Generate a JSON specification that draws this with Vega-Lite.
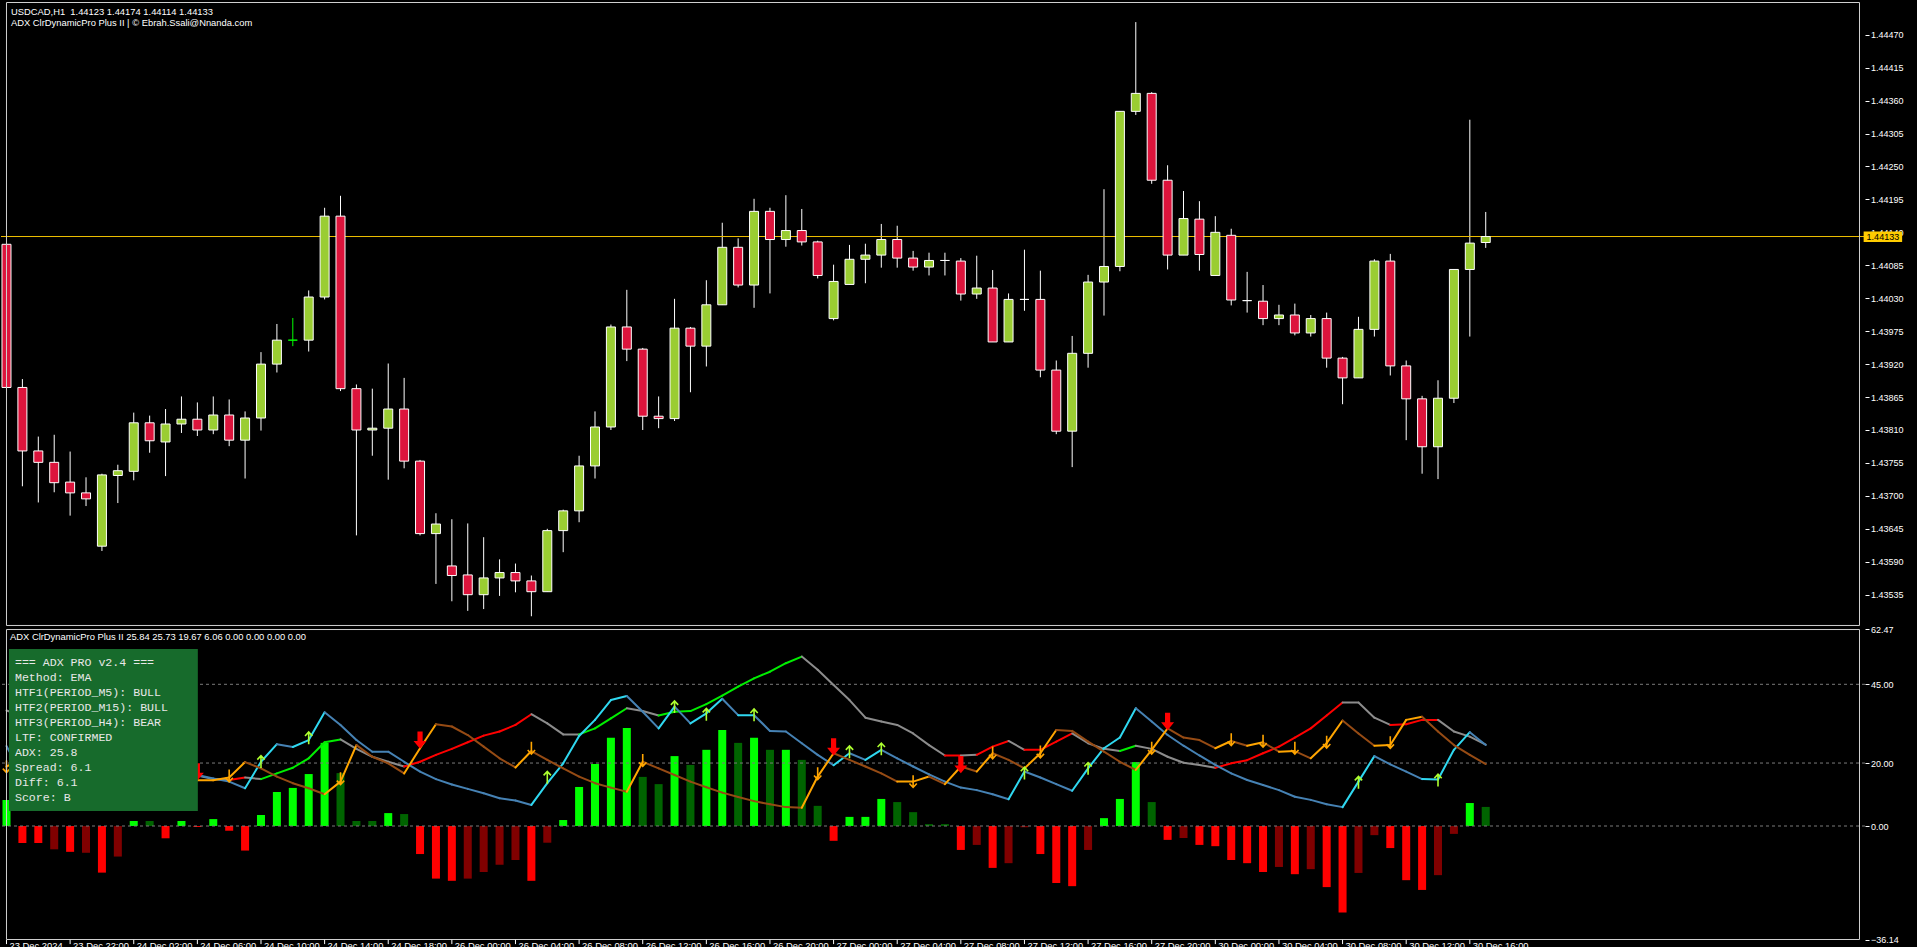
{
  "$schema": "https://vega.github.io/schema/vega-lite/v6.json",
  "width": 1917,
  "height": 947,
  "autosize": {"type": "fit", "contains": "padding"},
  "padding": 0,
  "background": "#000000",
  "config": {"view": {"stroke": null}, "font": "Liberation Sans", "axis": {"labelFont": "Liberation Sans"}},
  "datasets": {
    "candles": [
      {"i":0,"o":1.4412,"h":1.44125,"l":1.43878,"c":1.43881},
      {"i":1,"o":1.43881,"h":1.43895,"l":1.43716,"c":1.43775},
      {"i":2,"o":1.43775,"h":1.43799,"l":1.43689,"c":1.43756},
      {"i":3,"o":1.43756,"h":1.43802,"l":1.43706,"c":1.43722},
      {"i":4,"o":1.43723,"h":1.43774,"l":1.43667,"c":1.43705},
      {"i":5,"o":1.43705,"h":1.43731,"l":1.43683,"c":1.43695},
      {"i":6,"o":1.43616,"h":1.43737,"l":1.43608,"c":1.43735},
      {"i":7,"o":1.43734,"h":1.43752,"l":1.43688,"c":1.43742},
      {"i":8,"o":1.43741,"h":1.43839,"l":1.43726,"c":1.43822},
      {"i":9,"o":1.43822,"h":1.43834,"l":1.43772,"c":1.43792},
      {"i":10,"o":1.4379,"h":1.43845,"l":1.43733,"c":1.4382},
      {"i":11,"o":1.4382,"h":1.43866,"l":1.43805,"c":1.43828},
      {"i":12,"o":1.43828,"h":1.43856,"l":1.438,"c":1.4381},
      {"i":13,"o":1.4381,"h":1.43866,"l":1.43803,"c":1.43835},
      {"i":14,"o":1.43835,"h":1.43861,"l":1.43783,"c":1.43793},
      {"i":15,"o":1.43793,"h":1.43841,"l":1.43729,"c":1.4383},
      {"i":16,"o":1.4383,"h":1.4394,"l":1.43809,"c":1.4392},
      {"i":17,"o":1.4392,"h":1.43987,"l":1.43906,"c":1.4396},
      {"i":18,"o":1.4396,"h":1.43997,"l":1.4395,"c":1.4396},
      {"i":19,"o":1.4396,"h":1.44043,"l":1.43941,"c":1.44032},
      {"i":20,"o":1.44032,"h":1.44181,"l":1.44028,"c":1.44167},
      {"i":21,"o":1.44167,"h":1.44201,"l":1.43875,"c":1.43879},
      {"i":22,"o":1.43879,"h":1.43886,"l":1.43634,"c":1.4381},
      {"i":23,"o":1.4381,"h":1.43879,"l":1.43767,"c":1.43813},
      {"i":24,"o":1.43813,"h":1.43921,"l":1.43727,"c":1.43845},
      {"i":25,"o":1.43845,"h":1.43897,"l":1.43746,"c":1.43758},
      {"i":26,"o":1.43758,"h":1.4376,"l":1.43634,"c":1.43637},
      {"i":27,"o":1.43637,"h":1.43671,"l":1.43553,"c":1.43653},
      {"i":28,"o":1.43583,"h":1.43661,"l":1.43524,"c":1.43567},
      {"i":29,"o":1.43568,"h":1.43654,"l":1.43508,"c":1.43535},
      {"i":30,"o":1.43535,"h":1.43631,"l":1.43511,"c":1.43563},
      {"i":31,"o":1.43563,"h":1.43594,"l":1.43533,"c":1.43572},
      {"i":32,"o":1.43572,"h":1.43587,"l":1.43539,"c":1.43558},
      {"i":33,"o":1.43558,"h":1.43567,"l":1.43499,"c":1.4354},
      {"i":34,"o":1.4354,"h":1.43645,"l":1.4354,"c":1.43642},
      {"i":35,"o":1.43642,"h":1.43677,"l":1.43606,"c":1.43675},
      {"i":36,"o":1.43675,"h":1.43767,"l":1.43656,"c":1.4375},
      {"i":37,"o":1.4375,"h":1.43841,"l":1.43729,"c":1.43815},
      {"i":38,"o":1.43815,"h":1.43986,"l":1.4381,"c":1.43982},
      {"i":39,"o":1.43982,"h":1.44044,"l":1.43925,"c":1.43945},
      {"i":40,"o":1.43945,"h":1.43947,"l":1.4381,"c":1.43833},
      {"i":41,"o":1.43833,"h":1.43866,"l":1.43813,"c":1.43829},
      {"i":42,"o":1.43829,"h":1.44029,"l":1.43825,"c":1.4398},
      {"i":43,"o":1.4398,"h":1.43982,"l":1.43873,"c":1.4395},
      {"i":44,"o":1.4395,"h":1.4406,"l":1.43916,"c":1.44019},
      {"i":45,"o":1.44019,"h":1.44156,"l":1.44019,"c":1.44115},
      {"i":46,"o":1.44115,"h":1.4413,"l":1.44048,"c":1.44052},
      {"i":47,"o":1.44052,"h":1.44196,"l":1.44014,"c":1.44175},
      {"i":48,"o":1.44175,"h":1.44181,"l":1.44038,"c":1.44128},
      {"i":49,"o":1.44128,"h":1.44202,"l":1.44116,"c":1.44143},
      {"i":50,"o":1.44143,"h":1.44179,"l":1.44118,"c":1.44124},
      {"i":51,"o":1.44124,"h":1.44126,"l":1.44063,"c":1.44068},
      {"i":52,"o":1.43996,"h":1.44086,"l":1.43993,"c":1.44058},
      {"i":53,"o":1.44053,"h":1.44119,"l":1.44053,"c":1.44095},
      {"i":54,"o":1.44095,"h":1.44121,"l":1.44055,"c":1.44102},
      {"i":55,"o":1.44102,"h":1.44154,"l":1.44081,"c":1.44128},
      {"i":56,"o":1.44128,"h":1.44151,"l":1.44081,"c":1.44097},
      {"i":57,"o":1.44097,"h":1.44109,"l":1.44076,"c":1.44082},
      {"i":58,"o":1.44082,"h":1.44106,"l":1.44068,"c":1.44093},
      {"i":59,"o":1.44093,"h":1.44106,"l":1.44068,"c":1.44093},
      {"i":60,"o":1.44092,"h":1.44097,"l":1.44026,"c":1.44037},
      {"i":61,"o":1.44037,"h":1.44101,"l":1.44029,"c":1.44047},
      {"i":62,"o":1.44047,"h":1.44077,"l":1.43957,"c":1.43957},
      {"i":63,"o":1.43957,"h":1.44038,"l":1.43957,"c":1.44028},
      {"i":64,"o":1.44028,"h":1.44111,"l":1.44009,"c":1.44028},
      {"i":65,"o":1.44028,"h":1.44076,"l":1.43898,"c":1.4391},
      {"i":66,"o":1.4391,"h":1.43926,"l":1.43803,"c":1.43808},
      {"i":67,"o":1.43808,"h":1.43967,"l":1.43748,"c":1.43938},
      {"i":68,"o":1.43938,"h":1.44069,"l":1.43914,"c":1.44057},
      {"i":69,"o":1.44057,"h":1.44212,"l":1.44001,"c":1.44083},
      {"i":70,"o":1.44083,"h":1.44342,"l":1.44075,"c":1.44342},
      {"i":71,"o":1.44342,"h":1.44491,"l":1.44336,"c":1.44372},
      {"i":72,"o":1.44372,"h":1.44374,"l":1.44221,"c":1.44227},
      {"i":73,"o":1.44227,"h":1.44252,"l":1.44078,"c":1.44102},
      {"i":74,"o":1.44102,"h":1.44209,"l":1.44102,"c":1.44163},
      {"i":75,"o":1.44162,"h":1.44192,"l":1.44076,"c":1.44103},
      {"i":76,"o":1.44068,"h":1.44167,"l":1.44068,"c":1.4414},
      {"i":77,"o":1.44135,"h":1.44146,"l":1.44018,"c":1.44027},
      {"i":78,"o":1.44026,"h":1.44074,"l":1.44006,"c":1.44026},
      {"i":79,"o":1.44025,"h":1.44052,"l":1.43985,"c":1.43996},
      {"i":80,"o":1.43996,"h":1.44019,"l":1.43985,"c":1.44002},
      {"i":81,"o":1.44002,"h":1.44021,"l":1.43968,"c":1.43972},
      {"i":82,"o":1.43972,"h":1.44002,"l":1.43966,"c":1.43996},
      {"i":83,"o":1.43996,"h":1.44006,"l":1.43914,"c":1.4393},
      {"i":84,"o":1.4393,"h":1.43932,"l":1.43853,"c":1.43897},
      {"i":85,"o":1.43897,"h":1.43999,"l":1.43897,"c":1.43978},
      {"i":86,"o":1.43978,"h":1.44095,"l":1.43966,"c":1.44092},
      {"i":87,"o":1.44092,"h":1.44104,"l":1.43901,"c":1.43917},
      {"i":88,"o":1.43917,"h":1.43926,"l":1.43793,"c":1.43862},
      {"i":89,"o":1.43862,"h":1.43867,"l":1.43737,"c":1.43782},
      {"i":90,"o":1.43782,"h":1.43893,"l":1.43728,"c":1.43863},
      {"i":91,"o":1.43863,"h":1.44078,"l":1.43855,"c":1.44078},
      {"i":92,"o":1.44078,"h":1.44328,"l":1.43966,"c":1.44122},
      {"i":93,"o":1.44123,"h":1.44174,"l":1.44114,"c":1.44133}
    ],
    "ind": [
      {"i":0,"adx":36.7,"as":"flat","pdi":25.4,"ps":"down","mdi":18.9,"ms":"up","h":8.3,"hs":"strong bull"},
      {"i":1,"adx":35.0,"as":"flat","pdi":16.0,"ps":"down","mdi":21.4,"ms":"up","h":-5.4,"hs":"strong bear"},
      {"i":2,"adx":33.2,"as":"flat","pdi":15.0,"ps":"down","mdi":20.4,"ms":"down","h":-5.4,"hs":"strong bear"},
      {"i":3,"adx":31.5,"as":"flat","pdi":14.0,"ps":"down","mdi":21.4,"ms":"up","h":-7.4,"hs":"weak bear"},
      {"i":4,"adx":29.8,"as":"flat","pdi":13.0,"ps":"down","mdi":21.2,"ms":"down","h":-8.2,"hs":"strong bear"},
      {"i":5,"adx":28.0,"as":"flat","pdi":12.8,"ps":"down","mdi":21.3,"ms":"up","h":-8.5,"hs":"weak bear"},
      {"i":6,"adx":26.5,"as":"flat","pdi":9.0,"ps":"down","mdi":23.8,"ms":"up","h":-14.8,"hs":"strong bear"},
      {"i":7,"adx":24.8,"as":"flat","pdi":12.0,"ps":"up","mdi":21.7,"ms":"down","h":-9.7,"hs":"weak bear"},
      {"i":8,"adx":23.0,"as":"flat","pdi":20.0,"ps":"up","mdi":18.4,"ms":"down","h":1.6,"hs":"strong bull"},
      {"i":9,"adx":21.2,"as":"flat","pdi":19.0,"ps":"down","mdi":17.4,"ms":"down","h":1.6,"hs":"weak bull"},
      {"i":10,"adx":19.5,"as":"flat","pdi":15.0,"ps":"down","mdi":18.9,"ms":"up","h":-3.9,"hs":"strong bear"},
      {"i":11,"adx":17.8,"as":"flat","pdi":17.0,"ps":"up","mdi":14.0,"ms":"down","h":1.6,"hs":"strong bull"},
      {"i":12,"adx":16.0,"as":"flat","pdi":16.2,"ps":"down","mdi":14.5,"ms":"up","h":-0.3,"hs":"strong bear"},
      {"i":13,"adx":14.9,"as":"flat","pdi":15.1,"ps":"down","mdi":14.5,"ms":"up","h":2.2,"hs":"strong bull"},
      {"i":14,"adx":14.6,"as":"flat","pdi":14.1,"ps":"down","mdi":15.4,"ms":"up","h":-1.5,"hs":"strong bear"},
      {"i":15,"adx":15.4,"as":"bear","pdi":12.0,"ps":"down","mdi":20.3,"ms":"up","h":-7.8,"hs":"strong bear"},
      {"i":16,"adx":14.9,"as":"flat","pdi":20.4,"ps":"up","mdi":18.3,"ms":"down","h":3.5,"hs":"strong bull"},
      {"i":17,"adx":16.7,"as":"bull","pdi":26.0,"ps":"up","mdi":15.7,"ms":"down","h":10.8,"hs":"strong bull"},
      {"i":18,"adx":18.5,"as":"bull","pdi":25.1,"ps":"down","mdi":13.6,"ms":"down","h":12.1,"hs":"strong bull"},
      {"i":19,"adx":21.5,"as":"bull","pdi":27.3,"ps":"up","mdi":12.0,"ms":"down","h":16.5,"hs":"strong bull"},
      {"i":20,"adx":26.6,"as":"bull","pdi":36.1,"ps":"up","mdi":10.1,"ms":"down","h":26.4,"hs":"strong bull"},
      {"i":21,"adx":27.5,"as":"bull","pdi":32.1,"ps":"down","mdi":14.1,"ms":"up","h":16.8,"hs":"weak bull"},
      {"i":22,"adx":24.5,"as":"flat","pdi":27.3,"ps":"down","mdi":25.7,"ms":"up","h":1.6,"hs":"weak bull"},
      {"i":23,"adx":22.0,"as":"flat","pdi":23.6,"ps":"down","mdi":22.0,"ms":"down","h":1.6,"hs":"weak bull"},
      {"i":24,"adx":20.4,"as":"flat","pdi":23.6,"ps":"down","mdi":19.9,"ms":"down","h":4.1,"hs":"strong bull"},
      {"i":25,"adx":18.9,"as":"flat","pdi":20.4,"ps":"down","mdi":16.7,"ms":"down","h":3.8,"hs":"weak bull"},
      {"i":26,"adx":20.4,"as":"bear","pdi":17.3,"ps":"down","mdi":24.7,"ms":"up","h":-8.9,"hs":"strong bear"},
      {"i":27,"adx":22.6,"as":"bear","pdi":14.9,"ps":"down","mdi":32.3,"ms":"up","h":-16.7,"hs":"strong bear"},
      {"i":28,"adx":24.5,"as":"bear","pdi":13.2,"ps":"down","mdi":31.6,"ms":"down","h":-17.4,"hs":"strong bear"},
      {"i":29,"adx":26.6,"as":"bear","pdi":11.8,"ps":"down","mdi":28.9,"ms":"down","h":-16.7,"hs":"weak bear"},
      {"i":30,"adx":28.7,"as":"bear","pdi":10.4,"ps":"down","mdi":25.2,"ms":"down","h":-14.6,"hs":"weak bear"},
      {"i":31,"adx":30.0,"as":"bear","pdi":8.8,"ps":"down","mdi":21.5,"ms":"down","h":-12.3,"hs":"weak bear"},
      {"i":32,"adx":32.1,"as":"bear","pdi":8.1,"ps":"down","mdi":18.6,"ms":"down","h":-10.8,"hs":"weak bear"},
      {"i":33,"adx":35.5,"as":"bear","pdi":6.7,"ps":"down","mdi":23.8,"ms":"up","h":-17.4,"hs":"strong bear"},
      {"i":34,"adx":32.6,"as":"flat","pdi":13.6,"ps":"up","mdi":21.0,"ms":"down","h":-5.3,"hs":"weak bear"},
      {"i":35,"adx":29.1,"as":"flat","pdi":19.9,"ps":"up","mdi":18.3,"ms":"down","h":1.9,"hs":"strong bull"},
      {"i":36,"adx":29.1,"as":"flat","pdi":28.6,"ps":"up","mdi":15.7,"ms":"down","h":12.4,"hs":"strong bull"},
      {"i":37,"adx":31.0,"as":"bull","pdi":33.7,"ps":"up","mdi":13.6,"ms":"down","h":19.7,"hs":"strong bull"},
      {"i":38,"adx":34.2,"as":"bull","pdi":40.0,"ps":"up","mdi":12.2,"ms":"down","h":28.0,"hs":"strong bull"},
      {"i":39,"adx":37.4,"as":"bull","pdi":41.3,"ps":"up","mdi":10.9,"ms":"down","h":31.1,"hs":"strong bull"},
      {"i":40,"adx":36.5,"as":"flat","pdi":36.3,"ps":"down","mdi":20.4,"ms":"up","h":15.6,"hs":"weak bull"},
      {"i":41,"adx":35.1,"as":"flat","pdi":31.0,"ps":"down","mdi":18.3,"ms":"down","h":13.3,"hs":"weak bull"},
      {"i":42,"adx":36.3,"as":"bull","pdi":37.9,"ps":"up","mdi":16.2,"ms":"down","h":22.2,"hs":"strong bull"},
      {"i":43,"adx":36.5,"as":"bull","pdi":32.6,"ps":"down","mdi":14.1,"ms":"down","h":19.4,"hs":"weak bull"},
      {"i":44,"adx":38.7,"as":"bull","pdi":35.8,"ps":"up","mdi":12.3,"ms":"down","h":24.2,"hs":"strong bull"},
      {"i":45,"adx":41.4,"as":"bull","pdi":40.4,"ps":"up","mdi":10.6,"ms":"down","h":30.5,"hs":"strong bull"},
      {"i":46,"adx":44.3,"as":"bull","pdi":35.2,"ps":"down","mdi":9.2,"ms":"down","h":26.4,"hs":"weak bull"},
      {"i":47,"adx":46.9,"as":"bull","pdi":35.2,"ps":"up","mdi":7.9,"ms":"down","h":28.0,"hs":"strong bull"},
      {"i":48,"adx":49.0,"as":"bull","pdi":30.2,"ps":"down","mdi":6.9,"ms":"down","h":24.2,"hs":"weak bull"},
      {"i":49,"adx":51.7,"as":"bull","pdi":30.0,"ps":"down","mdi":6.0,"ms":"down","h":24.2,"hs":"strong bull"},
      {"i":50,"adx":53.8,"as":"bull","pdi":26.3,"ps":"down","mdi":5.8,"ms":"down","h":21.0,"hs":"weak bull"},
      {"i":51,"adx":49.6,"as":"flat","pdi":22.6,"ps":"down","mdi":15.7,"ms":"up","h":6.4,"hs":"weak bull"},
      {"i":52,"adx":44.8,"as":"flat","pdi":19.3,"ps":"down","mdi":23.1,"ms":"up","h":-4.7,"hs":"strong bear"},
      {"i":53,"adx":40.0,"as":"flat","pdi":23.1,"ps":"up","mdi":21.0,"ms":"down","h":2.9,"hs":"strong bull"},
      {"i":54,"adx":34.4,"as":"flat","pdi":21.0,"ps":"down","mdi":18.9,"ms":"down","h":2.9,"hs":"strong bull"},
      {"i":55,"adx":33.2,"as":"flat","pdi":24.2,"ps":"up","mdi":16.7,"ms":"down","h":8.6,"hs":"strong bull"},
      {"i":56,"adx":32.1,"as":"flat","pdi":21.5,"ps":"down","mdi":14.1,"ms":"down","h":7.6,"hs":"weak bull"},
      {"i":57,"adx":29.4,"as":"flat","pdi":18.9,"ps":"down","mdi":14.1,"ms":"up","h":4.4,"hs":"weak bull"},
      {"i":58,"adx":25.7,"as":"flat","pdi":16.4,"ps":"down","mdi":15.7,"ms":"up","h":0.6,"hs":"weak bull"},
      {"i":59,"adx":22.4,"as":"flat","pdi":14.1,"ps":"down","mdi":13.3,"ms":"down","h":0.6,"hs":"weak bull"},
      {"i":60,"adx":22.4,"as":"bear","pdi":12.2,"ps":"down","mdi":18.9,"ms":"up","h":-7.6,"hs":"strong bear"},
      {"i":61,"adx":22.6,"as":"flat","pdi":11.4,"ps":"down","mdi":17.3,"ms":"down","h":-6.0,"hs":"weak bear"},
      {"i":62,"adx":25.2,"as":"bear","pdi":10.1,"ps":"down","mdi":23.1,"ms":"up","h":-13.3,"hs":"strong bear"},
      {"i":63,"adx":27.0,"as":"bear","pdi":8.5,"ps":"down","mdi":21.0,"ms":"down","h":-11.8,"hs":"weak bear"},
      {"i":64,"adx":24.2,"as":"flat","pdi":17.3,"ps":"up","mdi":18.3,"ms":"down","h":-0.4,"hs":"weak bear"},
      {"i":65,"adx":24.2,"as":"bear","pdi":15.4,"ps":"down","mdi":23.1,"ms":"up","h":-8.9,"hs":"strong bear"},
      {"i":66,"adx":26.8,"as":"bear","pdi":13.3,"ps":"down","mdi":30.5,"ms":"up","h":-18.1,"hs":"strong bear"},
      {"i":67,"adx":29.4,"as":"bear","pdi":11.2,"ps":"down","mdi":30.2,"ms":"down","h":-19.1,"hs":"strong bear"},
      {"i":68,"adx":26.3,"as":"flat","pdi":18.3,"ps":"up","mdi":26.8,"ms":"down","h":-7.6,"hs":"weak bear"},
      {"i":69,"adx":24.5,"as":"flat","pdi":24.7,"ps":"up","mdi":23.6,"ms":"down","h":2.5,"hs":"strong bull"},
      {"i":70,"adx":23.8,"as":"flat","pdi":28.1,"ps":"up","mdi":20.4,"ms":"down","h":8.6,"hs":"strong bull"},
      {"i":71,"adx":25.5,"as":"bull","pdi":37.4,"ps":"up","mdi":17.8,"ms":"down","h":20.3,"hs":"strong bull"},
      {"i":72,"adx":24.5,"as":"flat","pdi":33.2,"ps":"down","mdi":24.2,"ms":"up","h":7.6,"hs":"weak bull"},
      {"i":73,"adx":22.0,"as":"flat","pdi":28.9,"ps":"down","mdi":31.0,"ms":"up","h":-4.4,"hs":"strong bear"},
      {"i":74,"adx":20.1,"as":"flat","pdi":25.5,"ps":"down","mdi":28.1,"ms":"down","h":-3.8,"hs":"weak bear"},
      {"i":75,"adx":19.4,"as":"flat","pdi":22.4,"ps":"down","mdi":27.3,"ms":"down","h":-6.0,"hs":"strong bear"},
      {"i":76,"adx":18.5,"as":"flat","pdi":19.4,"ps":"down","mdi":24.7,"ms":"down","h":-6.4,"hs":"strong bear"},
      {"i":77,"adx":19.9,"as":"bear","pdi":16.7,"ps":"down","mdi":27.0,"ms":"up","h":-10.8,"hs":"strong bear"},
      {"i":78,"adx":20.9,"as":"bear","pdi":14.6,"ps":"down","mdi":25.5,"ms":"down","h":-11.8,"hs":"strong bear"},
      {"i":79,"adx":23.1,"as":"bear","pdi":13.0,"ps":"down","mdi":26.6,"ms":"up","h":-14.6,"hs":"strong bear"},
      {"i":80,"adx":25.2,"as":"bear","pdi":11.4,"ps":"down","mdi":23.6,"ms":"down","h":-13.0,"hs":"weak bear"},
      {"i":81,"adx":28.1,"as":"bear","pdi":9.3,"ps":"down","mdi":23.8,"ms":"up","h":-15.3,"hs":"strong bear"},
      {"i":82,"adx":31.0,"as":"bear","pdi":8.3,"ps":"down","mdi":21.5,"ms":"down","h":-13.7,"hs":"weak bear"},
      {"i":83,"adx":35.1,"as":"bear","pdi":6.9,"ps":"down","mdi":26.3,"ms":"up","h":-19.4,"hs":"strong bear"},
      {"i":84,"adx":39.2,"as":"bear","pdi":6.0,"ps":"down","mdi":33.5,"ms":"up","h":-27.5,"hs":"strong bear"},
      {"i":85,"adx":39.2,"as":"flat","pdi":14.1,"ps":"up","mdi":29.4,"ms":"down","h":-14.9,"hs":"weak bear"},
      {"i":86,"adx":34.4,"as":"flat","pdi":22.2,"ps":"up","mdi":25.5,"ms":"down","h":-2.9,"hs":"weak bear"},
      {"i":87,"adx":32.1,"as":"flat","pdi":19.6,"ps":"down","mdi":25.7,"ms":"up","h":-7.0,"hs":"strong bear"},
      {"i":88,"adx":32.3,"as":"bear","pdi":17.3,"ps":"down","mdi":33.7,"ms":"up","h":-17.2,"hs":"strong bear"},
      {"i":89,"adx":33.7,"as":"bear","pdi":14.9,"ps":"down","mdi":34.7,"ms":"up","h":-20.3,"hs":"strong bear"},
      {"i":90,"adx":33.7,"as":"bear","pdi":14.8,"ps":"up","mdi":30.0,"ms":"down","h":-15.6,"hs":"weak bear"},
      {"i":91,"adx":30.0,"as":"flat","pdi":24.2,"ps":"up","mdi":25.7,"ms":"down","h":-2.5,"hs":"weak bear"},
      {"i":92,"adx":28.4,"as":"flat","pdi":29.8,"ps":"up","mdi":22.6,"ms":"down","h":7.3,"hs":"strong bull"},
      {"i":93,"adx":25.84,"as":"flat","pdi":25.73,"ps":"down","mdi":19.67,"ms":"down","h":6.06,"hs":"weak bull"}
    ],
    "sig": [
      {"i":0,"v":18.9,"k":"down"},
      {"i":12,"v":17.2,"k":"strong"},
      {"i":14,"v":16.0,"k":"down"},
      {"i":16,"v":20.4,"k":"up"},
      {"i":19,"v":27.9,"k":"up"},
      {"i":21,"v":15.1,"k":"down"},
      {"i":26,"v":27.3,"k":"strong"},
      {"i":33,"v":24.8,"k":"down"},
      {"i":34,"v":15.4,"k":"up"},
      {"i":40,"v":20.9,"k":"down"},
      {"i":42,"v":37.8,"k":"up"},
      {"i":44,"v":35.4,"k":"up"},
      {"i":47,"v":35.2,"k":"up"},
      {"i":51,"v":16.7,"k":"down"},
      {"i":52,"v":25.1,"k":"strong"},
      {"i":53,"v":23.5,"k":"up"},
      {"i":55,"v":24.4,"k":"up"},
      {"i":57,"v":14.2,"k":"down"},
      {"i":60,"v":19.5,"k":"strong"},
      {"i":62,"v":23.3,"k":"down"},
      {"i":64,"v":16.7,"k":"up"},
      {"i":65,"v":23.6,"k":"down"},
      {"i":68,"v":18.2,"k":"up"},
      {"i":72,"v":24.8,"k":"down"},
      {"i":73,"v":33.2,"k":"strong"},
      {"i":77,"v":27.5,"k":"down"},
      {"i":79,"v":27.0,"k":"down"},
      {"i":81,"v":24.8,"k":"down"},
      {"i":83,"v":26.7,"k":"down"},
      {"i":85,"v":13.8,"k":"up"},
      {"i":87,"v":26.6,"k":"down"},
      {"i":90,"v":14.5,"k":"up"}
    ],
    "times": [
      {"i":0,"t":"23 Dec 2024"},
      {"i":4,"t":"23 Dec 22:00"},
      {"i":8,"t":"24 Dec 02:00"},
      {"i":12,"t":"24 Dec 06:00"},
      {"i":16,"t":"24 Dec 10:00"},
      {"i":20,"t":"24 Dec 14:00"},
      {"i":24,"t":"24 Dec 18:00"},
      {"i":28,"t":"26 Dec 00:00"},
      {"i":32,"t":"26 Dec 04:00"},
      {"i":36,"t":"26 Dec 08:00"},
      {"i":40,"t":"26 Dec 12:00"},
      {"i":44,"t":"26 Dec 16:00"},
      {"i":48,"t":"26 Dec 20:00"},
      {"i":52,"t":"27 Dec 00:00"},
      {"i":56,"t":"27 Dec 04:00"},
      {"i":60,"t":"27 Dec 08:00"},
      {"i":64,"t":"27 Dec 12:00"},
      {"i":68,"t":"27 Dec 16:00"},
      {"i":72,"t":"27 Dec 20:00"},
      {"i":76,"t":"30 Dec 00:00"},
      {"i":80,"t":"30 Dec 04:00"},
      {"i":84,"t":"30 Dec 08:00"},
      {"i":88,"t":"30 Dec 12:00"},
      {"i":92,"t":"30 Dec 16:00"}
    ]
  },
  "resolve": {"scale": {"y": "independent"}, "axis": {"y": "independent"}},
  "layer": [
    {
      "layer": [
        {
          "data": {"name": "candles"},
          "mark": {"type": "rule", "strokeWidth": 1, "clip": true, "opacity": 1},
          "encoding": {
            "x": {"field": "i", "type": "quantitative", "scale": {"domain": [-0.03125, 116.53125], "nice": false, "zero": false}, "axis": null},
            "y": {"field": "l", "type": "quantitative", "scale": {"domain": [1.429468, 1.445279], "nice": false, "zero": false},
              "axis": {"orient": "right", "title": null, "format": ".5f", "values": [1.43535, 1.4359, 1.43645, 1.437, 1.43755, 1.4381, 1.43865, 1.4392, 1.43975, 1.4403, 1.44085, 1.4414, 1.44195, 1.4425, 1.44305, 1.4436, 1.44415, 1.4447], "domain": false, "grid": false, "ticks": true, "tickSize": 4, "tickColor": "#ffffff", "labelColor": "#ffffff", "labelFontSize": 9, "labelPadding": 1.5, "labelOverlap": false, "minExtent": 52, "maxExtent": 52, "zindex": 0}},
            "y2": {"field": "h"},
            "color": {"condition": {"test": "datum.i == 18", "value": "#00ff00"}, "value": "#ffffff"}
          }
        },
        {
          "data": {"values": [{}]},
          "mark": {"type": "rule", "color": "#f0c000", "strokeWidth": 1, "opacity": 1},
          "encoding": {
            "y": {"datum": 1.44133, "type": "quantitative", "scale": {"domain": [1.429468, 1.445279], "nice": false, "zero": false},
              "axis": {"orient": "right", "title": null, "format": ".5f", "values": [1.43535, 1.4359, 1.43645, 1.437, 1.43755, 1.4381, 1.43865, 1.4392, 1.43975, 1.4403, 1.44085, 1.4414, 1.44195, 1.4425, 1.44305, 1.4436, 1.44415, 1.4447], "domain": false, "grid": false, "ticks": true, "tickSize": 4, "tickColor": "#ffffff", "labelColor": "#ffffff", "labelFontSize": 9, "labelPadding": 1.5, "labelOverlap": false, "minExtent": 52, "maxExtent": 52, "zindex": 0}}
          }
        },
        {
          "data": {"name": "candles"},
          "mark": {"type": "bar", "orient": "vertical", "size": 9, "strokeWidth": 1, "clip": true, "opacity": 1},
          "encoding": {
            "x": {"field": "i", "type": "quantitative", "scale": {"domain": [-0.03125, 116.53125], "nice": false, "zero": false}, "axis": null},
            "y": {"field": "o", "type": "quantitative", "scale": {"domain": [1.429468, 1.445279], "nice": false, "zero": false},
              "axis": {"orient": "right", "title": null, "format": ".5f", "values": [1.43535, 1.4359, 1.43645, 1.437, 1.43755, 1.4381, 1.43865, 1.4392, 1.43975, 1.4403, 1.44085, 1.4414, 1.44195, 1.4425, 1.44305, 1.4436, 1.44415, 1.4447], "domain": false, "grid": false, "ticks": true, "tickSize": 4, "tickColor": "#ffffff", "labelColor": "#ffffff", "labelFontSize": 9, "labelPadding": 1.5, "labelOverlap": false, "minExtent": 52, "maxExtent": 52, "zindex": 0}},
            "y2": {"field": "c"},
            "fill": {"condition": {"test": "datum.c > datum.o", "value": "#9acd32"}, "value": "#dc143c"},
            "stroke": {"condition": {"test": "datum.i == 18", "value": "#00ff00"}, "value": "#ffffff"}
          }
        },
        {
          "data": {"values": [{}]},
          "mark": {"type": "rect", "filled": false, "color": "#cfcfcf", "strokeWidth": 1, "opacity": 1},
          "encoding": {
            "x": {"datum": 0.0, "type": "quantitative", "scale": {"domain": [-0.03125, 116.53125], "nice": false, "zero": false}, "axis": null},
            "x2": {"datum": 116.5},
            "y": {"datum": 1.445237, "type": "quantitative", "scale": {"domain": [1.429468, 1.445279], "nice": false, "zero": false},
              "axis": {"orient": "right", "title": null, "format": ".5f", "values": [1.43535, 1.4359, 1.43645, 1.437, 1.43755, 1.4381, 1.43865, 1.4392, 1.43975, 1.4403, 1.44085, 1.4414, 1.44195, 1.4425, 1.44305, 1.4436, 1.44415, 1.4447], "domain": false, "grid": false, "ticks": true, "tickSize": 4, "tickColor": "#ffffff", "labelColor": "#ffffff", "labelFontSize": 9, "labelPadding": 1.5, "labelOverlap": false, "minExtent": 52, "maxExtent": 52, "zindex": 0}},
            "y2": {"datum": 1.434836}
          }
        },
        {
          "data": {"values": [{}]},
          "mark": {"type": "rect", "color": "#ffcc00", "opacity": 1},
          "encoding": {
            "x": {"datum": 116.76, "type": "quantitative", "scale": {"domain": [-0.03125, 116.53125], "nice": false, "zero": false}, "axis": null},
            "x2": {"datum": 119.18},
            "y": {"datum": 1.441414, "type": "quantitative", "scale": {"domain": [1.429468, 1.445279], "nice": false, "zero": false},
              "axis": {"orient": "right", "title": null, "format": ".5f", "values": [1.43535, 1.4359, 1.43645, 1.437, 1.43755, 1.4381, 1.43865, 1.4392, 1.43975, 1.4403, 1.44085, 1.4414, 1.44195, 1.4425, 1.44305, 1.4436, 1.44415, 1.4447], "domain": false, "grid": false, "ticks": true, "tickSize": 4, "tickColor": "#ffffff", "labelColor": "#ffffff", "labelFontSize": 9, "labelPadding": 1.5, "labelOverlap": false, "minExtent": 52, "maxExtent": 52, "zindex": 0}},
            "y2": {"datum": 1.441239}
          }
        },
        {
          "data": {"values": [{}]},
          "mark": {"type": "text", "color": "#000000", "font": "Liberation Sans", "fontSize": 9, "align": "center", "baseline": "middle"},
          "encoding": {
            "x": {"datum": 117.97, "type": "quantitative", "scale": {"domain": [-0.03125, 116.53125], "nice": false, "zero": false}, "axis": null},
            "y": {"datum": 1.44133, "type": "quantitative", "scale": {"domain": [1.429468, 1.445279], "nice": false, "zero": false},
              "axis": {"orient": "right", "title": null, "format": ".5f", "values": [1.43535, 1.4359, 1.43645, 1.437, 1.43755, 1.4381, 1.43865, 1.4392, 1.43975, 1.4403, 1.44085, 1.4414, 1.44195, 1.4425, 1.44305, 1.4436, 1.44415, 1.4447], "domain": false, "grid": false, "ticks": true, "tickSize": 4, "tickColor": "#ffffff", "labelColor": "#ffffff", "labelFontSize": 9, "labelPadding": 1.5, "labelOverlap": false, "minExtent": 52, "maxExtent": 52, "zindex": 0}},
            "text": {"value": "1.44133"}
          }
        },
        {
          "data": {"values": [{}]},
          "mark": {"type": "text", "color": "#ffffff", "font": "Liberation Sans", "fontSize": 9.4, "align": "left", "baseline": "alphabetic", "lineHeight": 11},
          "encoding": {
            "x": {"datum": 0.28, "type": "quantitative", "scale": {"domain": [-0.03125, 116.53125], "nice": false, "zero": false}, "axis": null},
            "y": {"datum": 1.445029, "type": "quantitative", "scale": {"domain": [1.429468, 1.445279], "nice": false, "zero": false},
              "axis": {"orient": "right", "title": null, "format": ".5f", "values": [1.43535, 1.4359, 1.43645, 1.437, 1.43755, 1.4381, 1.43865, 1.4392, 1.43975, 1.4403, 1.44085, 1.4414, 1.44195, 1.4425, 1.44305, 1.4436, 1.44415, 1.4447], "domain": false, "grid": false, "ticks": true, "tickSize": 4, "tickColor": "#ffffff", "labelColor": "#ffffff", "labelFontSize": 9, "labelPadding": 1.5, "labelOverlap": false, "minExtent": 52, "maxExtent": 52, "zindex": 0}},
            "text": {"value": ["USDCAD,H1\u00a0 1.44123 1.44174 1.44114 1.44133", "ADX ClrDynamicPro Plus II | © Ebrah.Ssali@Nnanda.com"]}
          }
        }
      ]
    },
    {
      "resolve": {"scale": {"color": "independent"}},
      "layer": [
        {
          "data": {"name": "ind"},
          "mark": {"type": "bar", "orient": "vertical", "size": 8, "clip": true, "opacity": 1},
          "encoding": {
            "x": {"field": "i", "type": "quantitative", "scale": {"domain": [-0.03125, 116.53125], "nice": false, "zero": false}, "axis": null},
            "y": {"field": "h", "type": "quantitative", "scale": {"domain": [-38.42, 262.31], "nice": false, "zero": false},
              "axis": {"orient": "right", "title": null, "format": ".2f", "values": [-36.14, 0, 20, 45, 62.47], "domain": false, "grid": false, "ticks": true, "tickSize": 4, "tickColor": "#ffffff", "labelColor": "#ffffff", "labelFontSize": 9, "labelPadding": 1.5, "labelOverlap": false, "minExtent": 52, "maxExtent": 52, "zindex": 0}},
            "y2": {"datum": 0},
            "color": {"field": "hs", "type": "nominal", "legend": null, "scale": {"domain": ["strong bull", "weak bull", "strong bear", "weak bear"], "range": ["#00ff00", "#006400", "#ff0000", "#800000"]}}
          }
        },
        {
          "data": {"values": [{"lv": 45}, {"lv": 20}, {"lv": 0}]},
          "mark": {"type": "rule", "color": "#7a7a7a", "strokeDash": [3, 3], "strokeWidth": 1, "opacity": 1},
          "encoding": {
            "y": {"field": "lv", "type": "quantitative", "scale": {"domain": [-38.42, 262.31], "nice": false, "zero": false},
              "axis": {"orient": "right", "title": null, "format": ".2f", "values": [-36.14, 0, 20, 45, 62.47], "domain": false, "grid": false, "ticks": true, "tickSize": 4, "tickColor": "#ffffff", "labelColor": "#ffffff", "labelFontSize": 9, "labelPadding": 1.5, "labelOverlap": false, "minExtent": 52, "maxExtent": 52, "zindex": 0}}
          }
        },
        {
          "data": {"name": "ind"},
          "transform": [
            {"window": [{"op": "lag", "field": "adx", "as": "adx0"}, {"op": "lag", "field": "i", "as": "i0"}], "sort": [{"field": "i"}]},
            {"filter": "datum.i0 != null"}
          ],
          "mark": {"type": "rule", "strokeWidth": 2, "strokeCap": "round", "opacity": 1},
          "encoding": {
            "x": {"field": "i0", "type": "quantitative", "scale": {"domain": [-0.03125, 116.53125], "nice": false, "zero": false}, "axis": null},
            "x2": {"field": "i"},
            "y": {"field": "adx0", "type": "quantitative", "scale": {"domain": [-38.42, 262.31], "nice": false, "zero": false},
              "axis": {"orient": "right", "title": null, "format": ".2f", "values": [-36.14, 0, 20, 45, 62.47], "domain": false, "grid": false, "ticks": true, "tickSize": 4, "tickColor": "#ffffff", "labelColor": "#ffffff", "labelFontSize": 9, "labelPadding": 1.5, "labelOverlap": false, "minExtent": 52, "maxExtent": 52, "zindex": 0}},
            "y2": {"field": "adx"},
            "color": {"field": "as", "type": "nominal", "legend": null, "scale": {"domain": ["flat", "bull", "bear"], "range": ["#8c8c8c", "#00ee00", "#ff0000"]}}
          }
        },
        {
          "data": {"name": "ind"},
          "transform": [
            {"window": [{"op": "lag", "field": "pdi", "as": "pdi0"}, {"op": "lag", "field": "i", "as": "i0"}], "sort": [{"field": "i"}]},
            {"filter": "datum.i0 != null"}
          ],
          "mark": {"type": "rule", "strokeWidth": 2, "strokeCap": "round", "opacity": 1},
          "encoding": {
            "x": {"field": "i0", "type": "quantitative", "scale": {"domain": [-0.03125, 116.53125], "nice": false, "zero": false}, "axis": null},
            "x2": {"field": "i"},
            "y": {"field": "pdi0", "type": "quantitative", "scale": {"domain": [-38.42, 262.31], "nice": false, "zero": false},
              "axis": {"orient": "right", "title": null, "format": ".2f", "values": [-36.14, 0, 20, 45, 62.47], "domain": false, "grid": false, "ticks": true, "tickSize": 4, "tickColor": "#ffffff", "labelColor": "#ffffff", "labelFontSize": 9, "labelPadding": 1.5, "labelOverlap": false, "minExtent": 52, "maxExtent": 52, "zindex": 0}},
            "y2": {"field": "pdi"},
            "color": {"field": "ps", "type": "nominal", "legend": null, "scale": {"domain": ["up", "down"], "range": ["#2fd8f0", "#4682b4"]}}
          }
        },
        {
          "data": {"name": "ind"},
          "transform": [
            {"window": [{"op": "lag", "field": "mdi", "as": "mdi0"}, {"op": "lag", "field": "i", "as": "i0"}], "sort": [{"field": "i"}]},
            {"filter": "datum.i0 != null"}
          ],
          "mark": {"type": "rule", "strokeWidth": 2, "strokeCap": "round", "opacity": 1},
          "encoding": {
            "x": {"field": "i0", "type": "quantitative", "scale": {"domain": [-0.03125, 116.53125], "nice": false, "zero": false}, "axis": null},
            "x2": {"field": "i"},
            "y": {"field": "mdi0", "type": "quantitative", "scale": {"domain": [-38.42, 262.31], "nice": false, "zero": false},
              "axis": {"orient": "right", "title": null, "format": ".2f", "values": [-36.14, 0, 20, 45, 62.47], "domain": false, "grid": false, "ticks": true, "tickSize": 4, "tickColor": "#ffffff", "labelColor": "#ffffff", "labelFontSize": 9, "labelPadding": 1.5, "labelOverlap": false, "minExtent": 52, "maxExtent": 52, "zindex": 0}},
            "y2": {"field": "mdi"},
            "color": {"field": "ms", "type": "nominal", "legend": null, "scale": {"domain": ["up", "down"], "range": ["#ffa500", "#964b14"]}}
          }
        },
        {
          "data": {"name": "sig"},
          "transform": [{"filter": "datum.k == 'up'"}],
          "mark": {"type": "point", "shape": "M0,1L0,-1M-0.6,-0.35L0,-1L0.6,-0.35", "filled": false, "color": "#adff2f", "size": 150, "strokeWidth": 1.6, "opacity": 1, "clip": true},
          "encoding": {
            "x": {"field": "i", "type": "quantitative", "scale": {"domain": [-0.03125, 116.53125], "nice": false, "zero": false}, "axis": null},
            "y": {"field": "v", "type": "quantitative", "scale": {"domain": [-38.42, 262.31], "nice": false, "zero": false},
              "axis": {"orient": "right", "title": null, "format": ".2f", "values": [-36.14, 0, 20, 45, 62.47], "domain": false, "grid": false, "ticks": true, "tickSize": 4, "tickColor": "#ffffff", "labelColor": "#ffffff", "labelFontSize": 9, "labelPadding": 1.5, "labelOverlap": false, "minExtent": 52, "maxExtent": 52, "zindex": 0}}
          }
        },
        {
          "data": {"name": "sig"},
          "transform": [{"filter": "datum.k == 'down'"}],
          "mark": {"type": "point", "shape": "M0,-1L0,1M-0.6,0.35L0,1L0.6,0.35", "filled": false, "color": "#ffa500", "size": 150, "strokeWidth": 1.6, "opacity": 1, "clip": true},
          "encoding": {
            "x": {"field": "i", "type": "quantitative", "scale": {"domain": [-0.03125, 116.53125], "nice": false, "zero": false}, "axis": null},
            "y": {"field": "v", "type": "quantitative", "scale": {"domain": [-38.42, 262.31], "nice": false, "zero": false},
              "axis": {"orient": "right", "title": null, "format": ".2f", "values": [-36.14, 0, 20, 45, 62.47], "domain": false, "grid": false, "ticks": true, "tickSize": 4, "tickColor": "#ffffff", "labelColor": "#ffffff", "labelFontSize": 9, "labelPadding": 1.5, "labelOverlap": false, "minExtent": 52, "maxExtent": 52, "zindex": 0}}
          }
        },
        {
          "data": {"name": "sig"},
          "transform": [{"filter": "datum.k == 'strong'"}],
          "mark": {"type": "point", "shape": "M-0.3,-1L0.3,-1L0.3,0.1L0.75,0.1L0,1L-0.75,0.1L-0.3,0.1Z", "filled": true, "color": "#ff0000", "size": 300, "strokeWidth": 0, "opacity": 1, "clip": true},
          "encoding": {
            "x": {"field": "i", "type": "quantitative", "scale": {"domain": [-0.03125, 116.53125], "nice": false, "zero": false}, "axis": null},
            "y": {"field": "v", "type": "quantitative", "scale": {"domain": [-38.42, 262.31], "nice": false, "zero": false},
              "axis": {"orient": "right", "title": null, "format": ".2f", "values": [-36.14, 0, 20, 45, 62.47], "domain": false, "grid": false, "ticks": true, "tickSize": 4, "tickColor": "#ffffff", "labelColor": "#ffffff", "labelFontSize": 9, "labelPadding": 1.5, "labelOverlap": false, "minExtent": 52, "maxExtent": 52, "zindex": 0}}
          }
        },
        {
          "data": {"values": [{}]},
          "mark": {"type": "rect", "filled": false, "color": "#cfcfcf", "strokeWidth": 1, "opacity": 1},
          "encoding": {
            "x": {"datum": 0.0, "type": "quantitative", "scale": {"domain": [-0.03125, 116.53125], "nice": false, "zero": false}, "axis": null},
            "x2": {"datum": 116.5},
            "y": {"datum": 62.4, "type": "quantitative", "scale": {"domain": [-38.42, 262.31], "nice": false, "zero": false},
              "axis": {"orient": "right", "title": null, "format": ".2f", "values": [-36.14, 0, 20, 45, 62.47], "domain": false, "grid": false, "ticks": true, "tickSize": 4, "tickColor": "#ffffff", "labelColor": "#ffffff", "labelFontSize": 9, "labelPadding": 1.5, "labelOverlap": false, "minExtent": 52, "maxExtent": 52, "zindex": 0}},
            "y2": {"datum": -36.04}
          }
        },
        {
          "data": {"values": [{}]},
          "mark": {"type": "rect", "color": "#176b2c", "opacity": 1},
          "encoding": {
            "x": {"datum": 0.156, "type": "quantitative", "scale": {"domain": [-0.03125, 116.53125], "nice": false, "zero": false}, "axis": null},
            "x2": {"datum": 12.03},
            "y": {"datum": 56.2, "type": "quantitative", "scale": {"domain": [-38.42, 262.31], "nice": false, "zero": false},
              "axis": {"orient": "right", "title": null, "format": ".2f", "values": [-36.14, 0, 20, 45, 62.47], "domain": false, "grid": false, "ticks": true, "tickSize": 4, "tickColor": "#ffffff", "labelColor": "#ffffff", "labelFontSize": 9, "labelPadding": 1.5, "labelOverlap": false, "minExtent": 52, "maxExtent": 52, "zindex": 0}},
            "y2": {"datum": 4.76}
          }
        },
        {
          "data": {"values": [{}]},
          "mark": {"type": "text", "color": "#e8e8e8", "font": "Liberation Mono", "fontSize": 11.6, "align": "left", "baseline": "alphabetic", "lineHeight": 15},
          "encoding": {
            "x": {"datum": 0.53, "type": "quantitative", "scale": {"domain": [-0.03125, 116.53125], "nice": false, "zero": false}, "axis": null},
            "y": {"datum": 50.9, "type": "quantitative", "scale": {"domain": [-38.42, 262.31], "nice": false, "zero": false},
              "axis": {"orient": "right", "title": null, "format": ".2f", "values": [-36.14, 0, 20, 45, 62.47], "domain": false, "grid": false, "ticks": true, "tickSize": 4, "tickColor": "#ffffff", "labelColor": "#ffffff", "labelFontSize": 9, "labelPadding": 1.5, "labelOverlap": false, "minExtent": 52, "maxExtent": 52, "zindex": 0}},
            "text": {"value": ["=== ADX PRO v2.4 ===", "Method: EMA", "HTF1(PERIOD_M5): BULL", "HTF2(PERIOD_M15): BULL", "HTF3(PERIOD_H4): BEAR", "LTF: CONFIRMED", "ADX: 25.8", "Spread: 6.1", "Diff: 6.1", "Score: B"]}
          }
        },
        {
          "data": {"values": [{}]},
          "mark": {"type": "text", "color": "#ffffff", "font": "Liberation Sans", "fontSize": 9.4, "align": "left", "baseline": "alphabetic"},
          "encoding": {
            "x": {"datum": 0.22, "type": "quantitative", "scale": {"domain": [-0.03125, 116.53125], "nice": false, "zero": false}, "axis": null},
            "y": {"datum": 59.07, "type": "quantitative", "scale": {"domain": [-38.42, 262.31], "nice": false, "zero": false},
              "axis": {"orient": "right", "title": null, "format": ".2f", "values": [-36.14, 0, 20, 45, 62.47], "domain": false, "grid": false, "ticks": true, "tickSize": 4, "tickColor": "#ffffff", "labelColor": "#ffffff", "labelFontSize": 9, "labelPadding": 1.5, "labelOverlap": false, "minExtent": 52, "maxExtent": 52, "zindex": 0}},
            "text": {"value": "ADX ClrDynamicPro Plus II 25.84 25.73 19.67 6.06 0.00 0.00 0.00 0.00"}
          }
        },
        {
          "data": {"name": "times"},
          "mark": {"type": "rule", "color": "#ffffff", "strokeWidth": 1, "opacity": 1},
          "encoding": {
            "x": {"field": "i", "type": "quantitative", "scale": {"domain": [-0.03125, 116.53125], "nice": false, "zero": false}, "axis": null},
            "y": {"datum": -36.14, "type": "quantitative", "scale": {"domain": [-38.42, 262.31], "nice": false, "zero": false},
              "axis": {"orient": "right", "title": null, "format": ".2f", "values": [-36.14, 0, 20, 45, 62.47], "domain": false, "grid": false, "ticks": true, "tickSize": 4, "tickColor": "#ffffff", "labelColor": "#ffffff", "labelFontSize": 9, "labelPadding": 1.5, "labelOverlap": false, "minExtent": 52, "maxExtent": 52, "zindex": 0}},
            "y2": {"datum": -37.5}
          }
        },
        {
          "data": {"name": "times"},
          "mark": {"type": "text", "color": "#ffffff", "font": "Liberation Sans", "fontSize": 9.4, "align": "left", "baseline": "top", "dx": 3, "clip": true},
          "encoding": {
            "x": {"field": "i", "type": "quantitative", "scale": {"domain": [-0.03125, 116.53125], "nice": false, "zero": false}, "axis": null},
            "y": {"datum": -36.83, "type": "quantitative", "scale": {"domain": [-38.42, 262.31], "nice": false, "zero": false},
              "axis": {"orient": "right", "title": null, "format": ".2f", "values": [-36.14, 0, 20, 45, 62.47], "domain": false, "grid": false, "ticks": true, "tickSize": 4, "tickColor": "#ffffff", "labelColor": "#ffffff", "labelFontSize": 9, "labelPadding": 1.5, "labelOverlap": false, "minExtent": 52, "maxExtent": 52, "zindex": 0}},
            "text": {"field": "t"}
          }
        }
      ]
    }
  ]
}
